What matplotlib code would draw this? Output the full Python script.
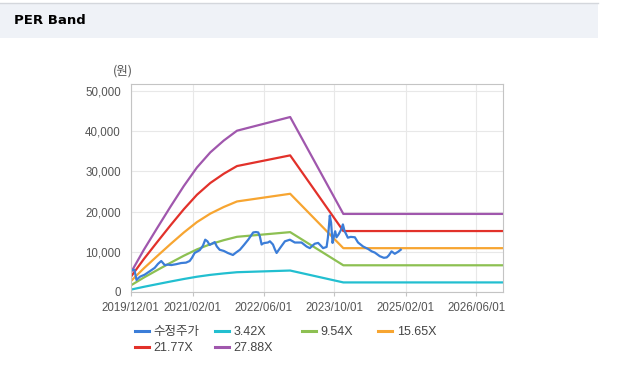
import numpy as np
import pandas as pd
import matplotlib
matplotlib.use("Agg")
import matplotlib.pyplot as plt
from matplotlib.lines import Line2D
from matplotlib.patches import Rectangle

plt.rcParams["font.family"] = ["Liberation Sans", "Noto Sans CJK KR", "DejaVu Sans"]

# ---- data ----
price_dates = ["2019-12-01", "2019-12-28", "2020-01-11", "2020-02-04", "2020-03-07", "2020-04-13",
               "2020-05-15", "2020-06-07", "2020-06-29", "2020-07-23", "2020-08-14", "2020-09-06",
               "2020-10-08", "2020-11-13", "2020-12-16", "2021-01-10", "2021-01-26", "2021-02-13",
               "2021-03-20", "2021-04-11", "2021-04-27", "2021-05-12", "2021-05-27", "2021-06-12",
               "2021-07-01", "2021-07-16", "2021-08-04", "2021-09-02", "2021-09-29", "2021-11-03",
               "2021-11-24", "2021-12-21", "2022-01-18", "2022-02-16", "2022-03-07", "2022-03-22",
               "2022-04-10", "2022-04-26", "2022-05-07", "2022-05-19", "2022-05-31", "2022-06-11",
               "2022-07-01", "2022-07-15", "2022-08-05", "2022-08-18", "2022-08-30", "2022-09-22",
               "2022-10-12", "2022-10-26", "2022-11-29", "2023-01-02", "2023-02-17", "2023-03-24",
               "2023-04-15", "2023-05-06", "2023-05-19", "2023-06-11", "2023-06-30", "2023-07-15",
               "2023-08-08", "2023-08-17", "2023-08-24", "2023-08-30", "2023-09-08", "2023-09-18",
               "2023-09-27", "2023-10-06", "2023-10-15", "2023-10-29", "2023-11-16", "2023-11-28",
               "2023-12-09", "2024-01-01", "2024-01-21", "2024-02-18", "2024-03-11", "2024-04-15",
               "2024-05-19", "2024-06-13", "2024-07-04", "2024-08-07", "2024-09-04", "2024-09-24",
               "2024-10-08", "2024-10-27", "2024-11-18", "2024-12-11", "2024-12-29"]
price = [5500, 5500, 3000, 3800, 4300, 5200,
         6000, 7000, 7700, 6700, 6800, 6700,
         6900, 7200, 7300, 7700, 8500, 9700,
         10400, 11500, 13000, 12600, 11700, 12000,
         12400, 11300, 10500, 10200, 9700, 9200,
         9800, 10500, 11700, 13000, 14000, 14800,
         14900, 14800, 13800, 11800, 12100, 12200,
         12300, 12600, 11800, 10600, 9700, 10900,
         11900, 12600, 13000, 12300, 12300, 11300,
         10900, 11600, 12000, 12200, 11500, 10900,
         11200, 13500, 16300, 19000, 17200, 12200,
         13800, 15100, 13600, 14300, 15500, 16800,
         15200, 13500, 13700, 13600, 12300, 11300,
         10700, 10100, 9800, 8900, 8500, 8600,
         9100, 10100, 9500, 10000, 10500]

band_dates = ["2019-12-01", "2020-03-01", "2020-06-01", "2020-09-01", "2020-12-01", "2021-03-01",
              "2021-06-01", "2021-09-01", "2021-12-01", "2022-12-01", "2023-12-01", "2026-12-01"]
band_342 = [571, 1283, 1949, 2606, 3232, 3796, 4258, 4617, 4918, 5335, 2380, 2380]
band_954 = [1593, 3578, 5438, 7269, 9015, 10589, 11877, 12879, 13719, 14882, 6640, 6640]
band_1565 = [2614, 5869, 8921, 11925, 14789, 17372, 19484, 21128, 22505, 24414, 10892, 10892]
band_2177 = [3636, 8164, 12409, 16589, 20573, 24165, 27104, 29390, 31305, 33961, 15152, 15152]
band_2788 = [4656, 10455, 15892, 21245, 26347, 30947, 34711, 37638, 40091, 43493, 19404, 19404]

tick_dates = ["2019-12-01", "2021-02-01", "2022-06-01", "2023-10-01", "2025-02-01", "2026-06-01"]
tick_labels = ["2019/12/01", "2021/02/01", "2022/06/01", "2023/10/01", "2025/02/01", "2026/06/01"]
y_ticks = [0, 10000, 20000, 30000, 40000, 50000]

pd_price = pd.to_datetime(price_dates)
pd_band = pd.to_datetime(band_dates)

series = [("수정주가", pd_price, price, "#3b7dd8"),
          ("3.42X", pd_band, band_342, "#22bfd0"),
          ("9.54X", pd_band, band_954, "#8dc052"),
          ("15.65X", pd_band, band_1565, "#f7a531"),
          ("21.77X", pd_band, band_2177, "#e2312a"),
          ("27.88X", pd_band, band_2788, "#a057ad")]

W, H = 617, 382
fig = plt.figure(figsize=(W / 100, H / 100), dpi=100)

# header strip
fig.patches.append(Rectangle((0, 1 - 38 / H), 598 / W, 35 / H, transform=fig.transFigure,
                             facecolor="#eff2f7", edgecolor="none", zorder=0))
fig.add_artist(Line2D([0, 598 / W], [1 - 3 / H] * 2, color="#d4d7dc", lw=1))
fig.text(14 / W, 1 - 21 / H, "PER Band", fontsize=9.5, fontweight="bold", va="center", ha="left",
         family=["DejaVu Sans"])

ax = fig.add_axes([130.5 / W, 1 - 292 / H, (503 - 130.5) / W, (292 - 84) / H])
# bands first, price on top of them
for name, d, v, c in series[1:] + series[:1]:
    ax.plot(d, v, color=c, lw=1.6, solid_joinstyle="round")

ax.set_xlim(pd.Timestamp("2019-12-01"), pd.Timestamp("2026-12-01"))
ax.set_ylim(0, 51700)
ax.set_xticks(pd.to_datetime(tick_dates))
ax.set_xticklabels(tick_labels)
ax.set_yticks(y_ticks)
ax.set_yticklabels([f"{t:,}" for t in y_ticks])
ax.grid(color="#e8e8e8", lw=0.8)
ax.set_axisbelow(True)
for s in ax.spines.values():
    s.set_color("#c4c4c4")
ax.tick_params(axis="x", length=3, color="#c4c4c4", labelsize=8.3, labelcolor="#555555", pad=4)
ax.tick_params(axis="y", length=0, labelsize=8.3, labelcolor="#555555", pad=7)
fig.text(123 / W, 1 - 71 / H, "(원)", fontsize=9, color="#555555", ha="center", va="center",
         family=["Noto Sans CJK KR"])

# legend, laid out in columns like the reference
cols = [(135, [0, 4]), (215, [1, 5]), (302, [2]), (378, [3])]
for x0, idx in cols:
    hs = [Line2D([], [], color=series[i][3], lw=2.2) for i in idx]
    lg = fig.legend(hs, [series[i][0] for i in idx], loc="upper left",
                    bbox_to_anchor=(x0 / W, 1 - 326 / H), frameon=False, fontsize=9,
                    handlelength=1.1, handletextpad=0.4, borderpad=0, borderaxespad=0,
                    labelspacing=0.35, labelcolor="#444444")

fig.savefig("out.png", dpi=100)
